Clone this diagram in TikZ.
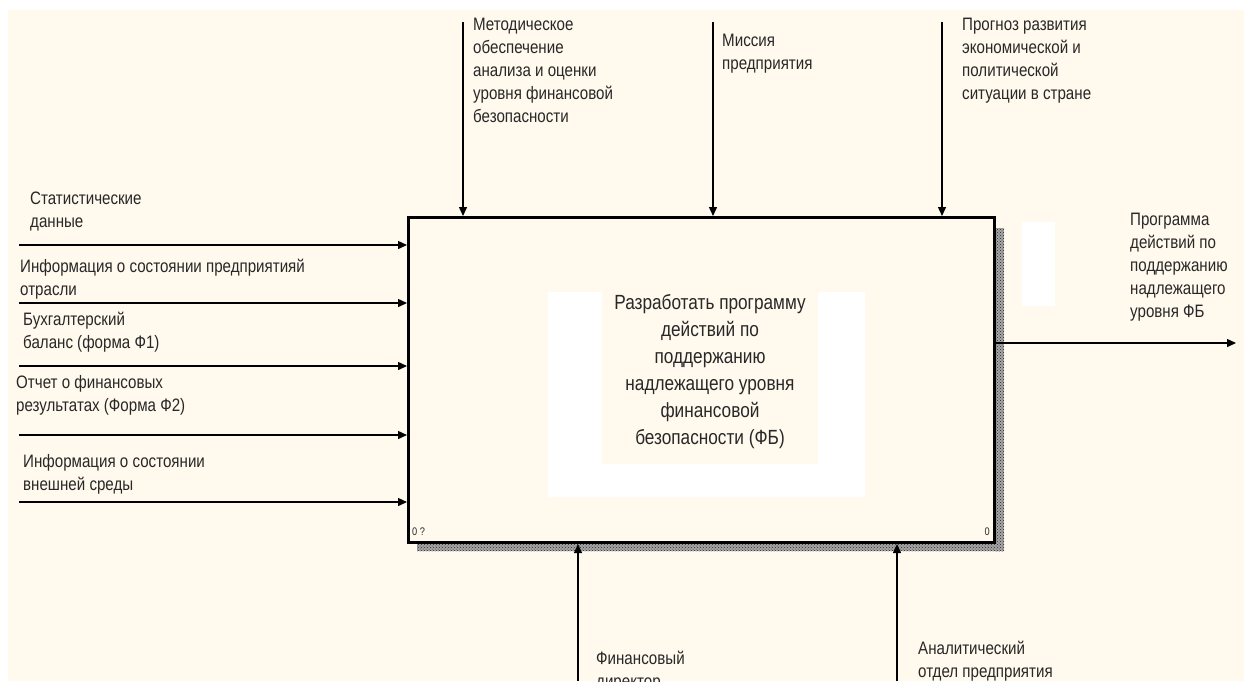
\documentclass[tikz,border=0pt]{standalone}
\usepackage{fontspec}
\setmainfont{Liberation Sans}[FakeStretch=0.84]
\usetikzlibrary{arrows.meta,patterns}
\definecolor{cream}{RGB}{255,249,238}
\definecolor{ink}{RGB}{40,40,40}
\tikzset{
  lbl/.style={anchor=north west,align=left,inner sep=0pt,text=ink,font=\fontsize{18}{23}\selectfont},
  flow/.style={line width=1.4pt,-{Triangle[length=9pt,width=8pt]}},
  shadow/.style={fill=black!35,postaction={pattern=crosshatch dots,pattern color=black!85}}
}
\begin{document}
\begin{tikzpicture}[x=1pt,y=-1pt]
\useasboundingbox (0,0) rectangle (1244,681);
\clip (0,0) rectangle (1244,681);
\fill[white] (0,0) rectangle (1244,681);
\fill[cream] (8,10) rectangle (1244,681);
% shadow
\path[shadow] (994,228) rectangle (1004,551);
\path[shadow] (417,541) rectangle (1004,551);
% box
\node[draw,line width=3pt,fill=cream,minimum width=586pt,minimum height=325pt,anchor=north west,inner sep=0pt] (box) at (407,216) {};
\fill[white] (548,292) rectangle (865,497);
\fill[cream] (602,288) rectangle (818,464);
\fill[white] (1022,222) rectangle (1055,306);
\node[anchor=north,align=center,inner sep=0pt,text=ink,font=\fontsize{20.5}{27}\selectfont] (title) at (710,290)
  {\strut Разработать программу\\действий по\\поддержанию\\надлежащего уровня\\финансовой\\безопасности (ФБ)};
\node[anchor=base west,inner sep=0pt,font=\fontsize{11}{13}\selectfont,text=ink] (n1) at (412,535) {0 ?};
\node[anchor=base east,inner sep=0pt,font=\fontsize{11}{13}\selectfont,text=ink] (n2) at (990,535) {0};
% inputs
\coordinate (i1) at (19,245);
\coordinate (i2) at (19,303);
\coordinate (i3) at (19,366);
\coordinate (i4) at (19,435);
\coordinate (i5) at (19,502);
\foreach \c in {i1,i2,i3,i4,i5} \draw[flow] (\c) -- (\c -| box.west);
\node[lbl] (t1) at (30,188) {\strut Статистические\\данные};
\node[lbl] (t2) at (20,256) {\strut Информация о состоянии предприятияй\\отрасли};
\node[lbl] (t3) at (23,309) {\strut Бухгалтерский\\баланс (форма Ф1)};
\node[lbl] (t4) at (16,372) {\strut Отчет о финансовых\\результатах (Форма Ф2)};
\node[lbl] (t5) at (23,451) {\strut Информация о состоянии\\внешней среды};
% controls
\coordinate (c1) at (463,22);
\coordinate (c2) at (713,22);
\coordinate (c3) at (942,22);
\foreach \c in {c1,c2,c3} \draw[flow] (\c) -- (\c |- box.north);
\node[lbl] (u1) at (473,14) {\strut Методическое\\обеспечение\\анализа и оценки\\уровня финансовой\\безопасности};
\node[lbl] (u2) at (722,30) {\strut Миссия\\предприятия};
\node[lbl] (u3) at (962,14) {\strut Прогноз развития\\экономической и\\политической\\ситуации в стране};
% output
\coordinate (o1) at (1236,343);
\draw[flow] (box.east |- o1) -- (o1);
\node[lbl] (v1) at (1130,209) {\strut Программа\\действий по\\поддержанию\\надлежащего\\уровня ФБ};
% mechanisms
\coordinate (m1) at (578,681);
\coordinate (m2) at (897,681);
\foreach \c in {m1,m2} \draw[flow] (\c) -- (\c |- box.south);
\node[lbl] (w1) at (596,648) {\strut Финансовый\\директор};
\node[lbl] (w2) at (918,638) {\strut Аналитический\\отдел предприятия};
\end{tikzpicture}
\end{document}
